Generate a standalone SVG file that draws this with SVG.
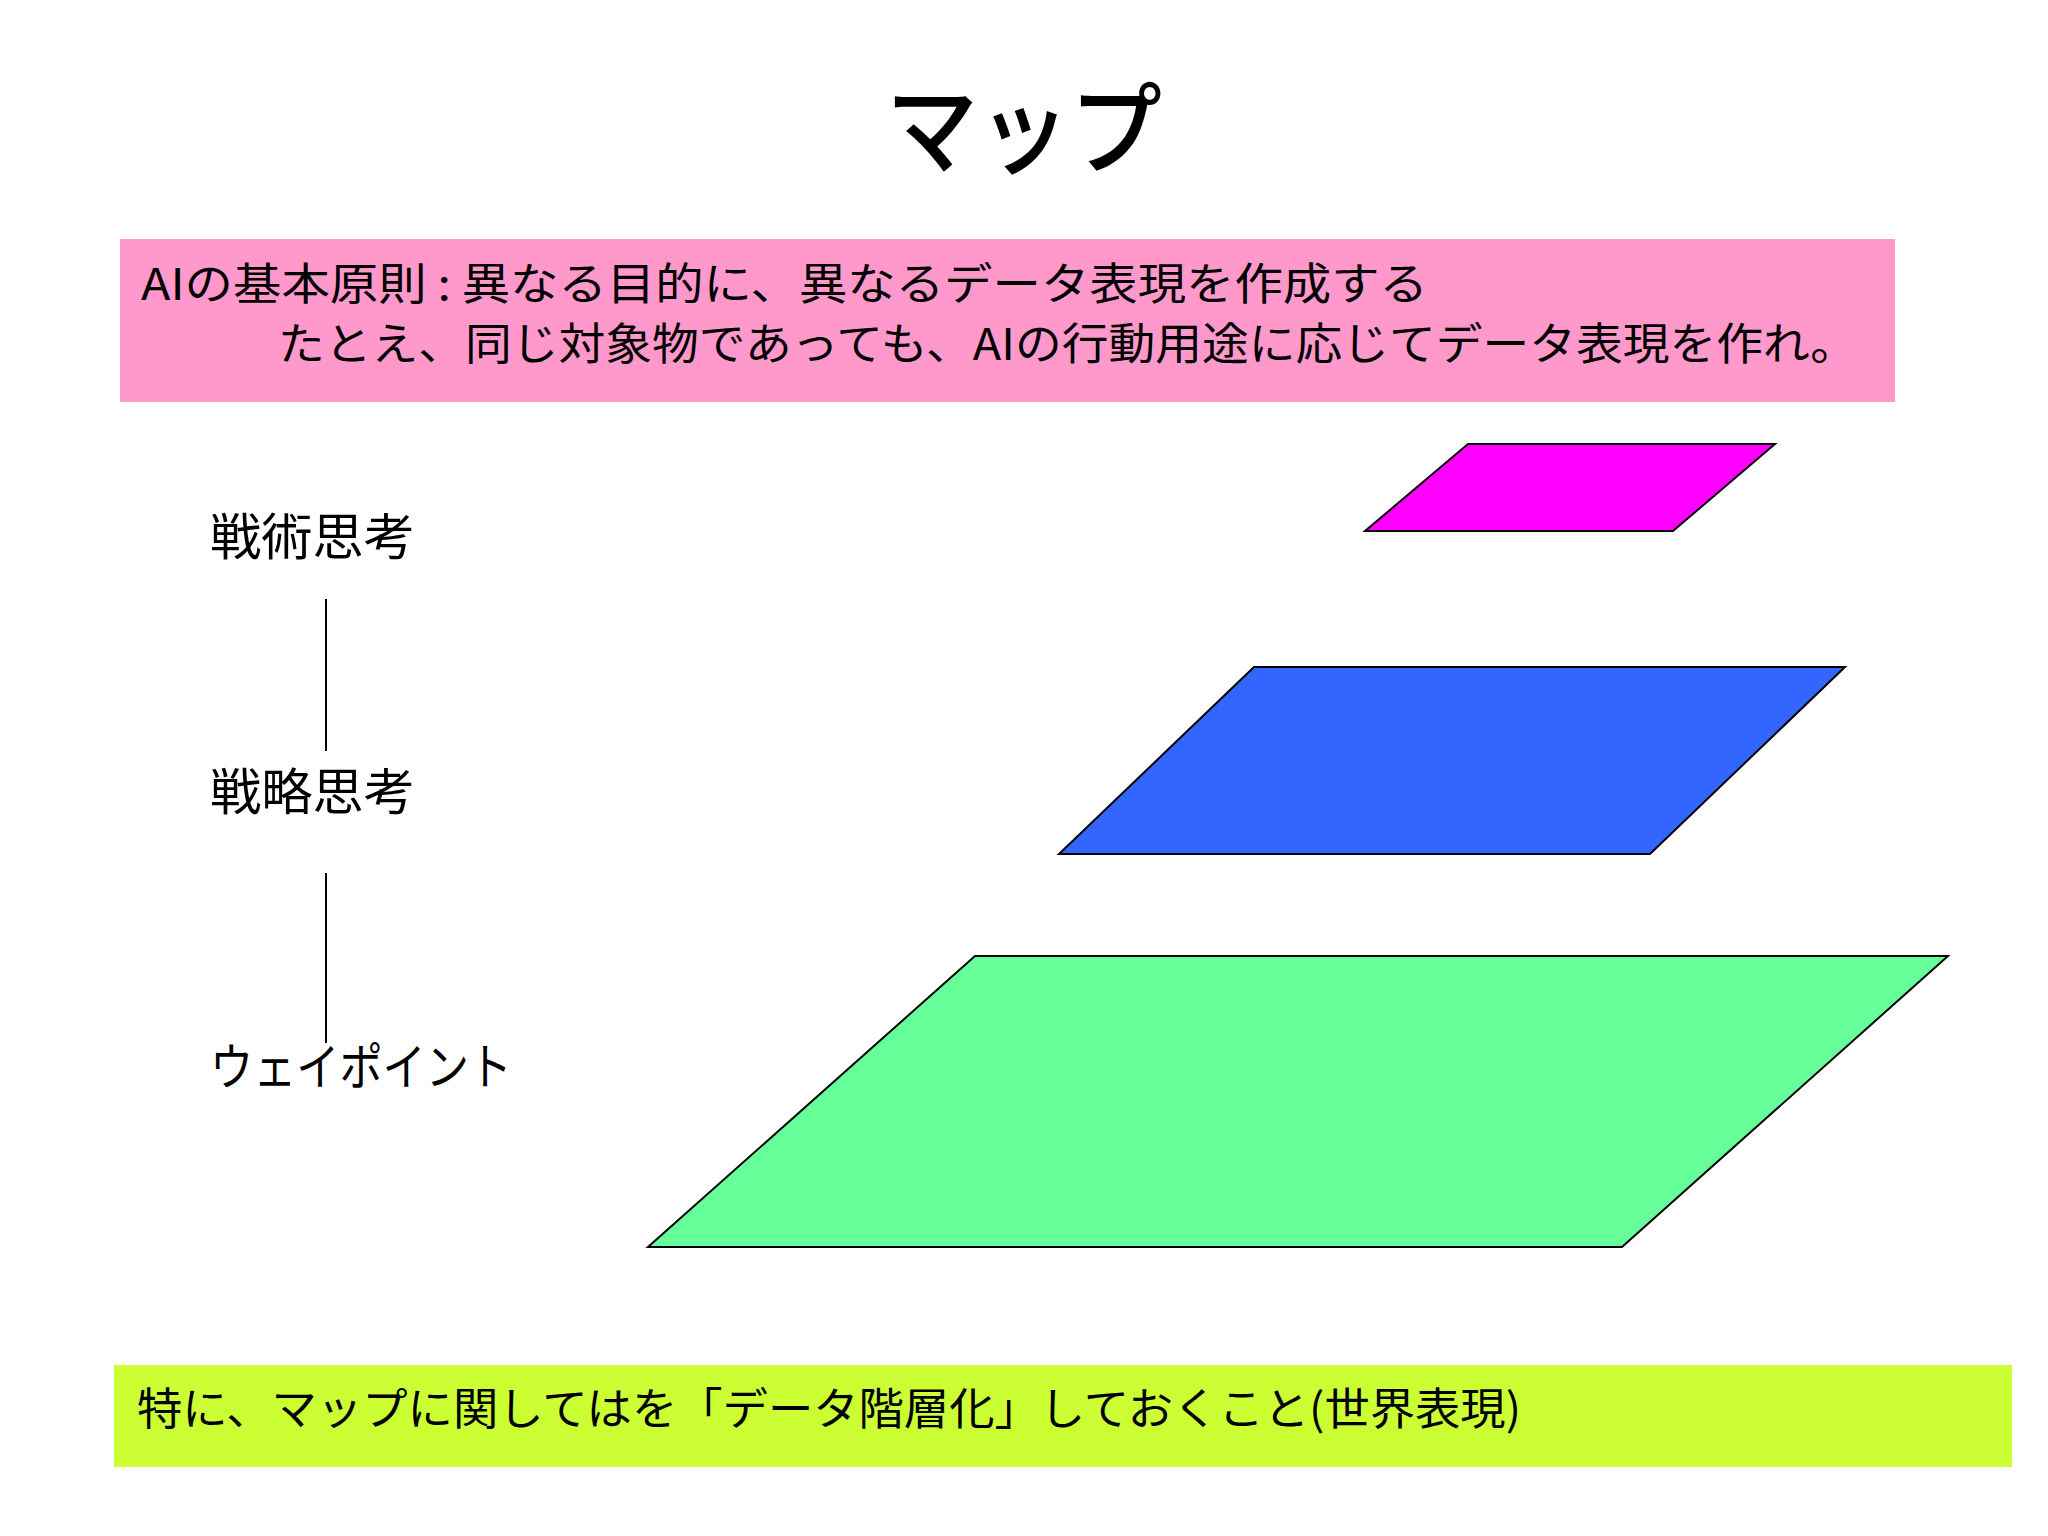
<svg xmlns="http://www.w3.org/2000/svg" width="2048" height="1536" viewBox="0 0 2048 1536">
<style>
text { font-family: "Noto Sans CJK JP", "Noto Sans", sans-serif; fill: #000; }
.box-text { font-size: 44px; }
.label { font-size: 50px; }
.layer { stroke: #000; stroke-width: 2; }
.conn { stroke: #000; stroke-width: 2; fill: none; }
</style>
<rect width="2048" height="1536" fill="#ffffff"/>
<g id="title">
  <text x="1024" y="166" text-anchor="middle" font-size="100" font-weight="500" textLength="276" lengthAdjust="spacingAndGlyphs">マップ</text>
</g>
<g id="principle">
  <rect x="120" y="239" width="1775" height="163" fill="#FF99CC"/>
  <text class="box-text" x="141" y="300" textLength="1287" lengthAdjust="spacingAndGlyphs">AIの基本原則 : 異なる目的に、異なるデータ表現を作成する</text>
  <text class="box-text" x="278" y="360" textLength="1579" lengthAdjust="spacingAndGlyphs">たとえ、同じ対象物であっても、AIの行動用途に応じてデータ表現を作れ。</text>
</g>
<g id="tactical-label">
  <text class="label" x="210" y="555" textLength="205" lengthAdjust="spacingAndGlyphs">戦術思考</text>
</g>
<g id="strategic-label">
  <text class="label" x="210" y="810" textLength="205" lengthAdjust="spacingAndGlyphs">戦略思考</text>
</g>
<g id="waypoint-label">
  <text class="label" x="210" y="1085" textLength="302" lengthAdjust="spacingAndGlyphs">ウェイポイント</text>
</g>
<g id="connectors">
  <line class="conn" x1="326" y1="599" x2="326" y2="751"/>
  <line class="conn" x1="326" y1="873" x2="326" y2="1043"/>
</g>
<g id="tactical-layer">
  <polygon class="layer" fill="#FF00FF" points="1468,444 1775,444 1673,531 1365,531"/>
</g>
<g id="strategic-layer">
  <polygon class="layer" fill="#3366FF" points="1254,667 1845,667 1650,854 1059,854"/>
</g>
<g id="waypoint-layer">
  <polygon class="layer" fill="#66FF99" points="975,956 1948,956 1622,1247 648,1247"/>
</g>
<g id="note">
  <rect x="114" y="1365" width="1898" height="102" fill="#CCFF33"/>
  <text class="box-text" x="137" y="1425" textLength="1384" lengthAdjust="spacingAndGlyphs">特に、マップに関してはを「データ階層化」しておくこと(世界表現)</text>
</g>
</svg>
